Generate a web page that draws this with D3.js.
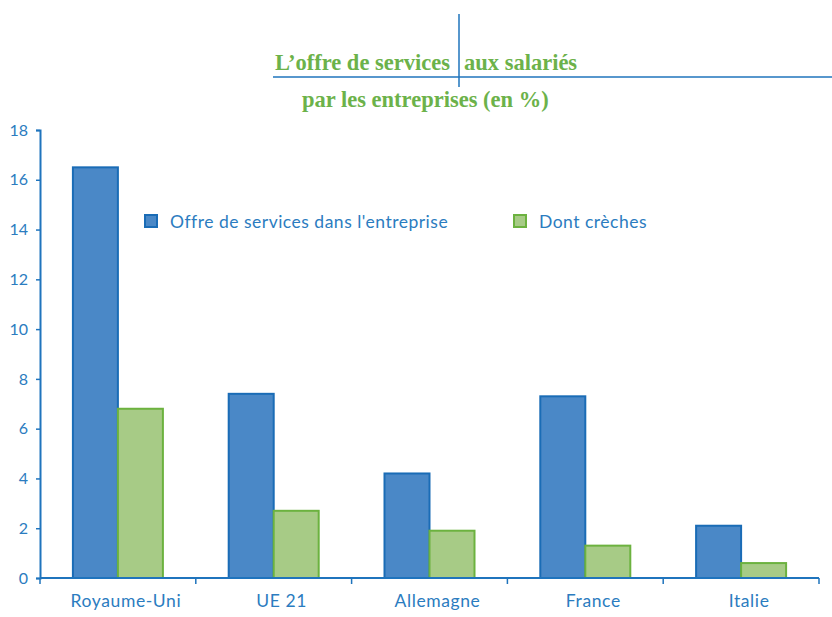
<!DOCTYPE html>
<html>
<head>
<meta charset="utf-8">
<script src="https://cdn.jsdelivr.net/npm/d3@7"></script>
<style>
  body { margin: 0; background: #fff; }
  svg text { font-family: Lato, "Open Sans", sans-serif; }
</style>
</head>
<body>
<svg id="chart" width="832" height="617"></svg>
<script>
// Data
const countries = ["Royaume-Uni", "UE 21", "Allemagne", "France", "Italie"];
const offreServices = [16.5, 7.4, 4.2, 7.3, 2.1];
const dontCreches = [6.8, 2.7, 1.9, 1.3, 0.6];
const seriesNames = ["Offre de services dans l'entreprise", "Dont crèches"];
const yTicks = [0, 2, 4, 6, 8, 10, 12, 14, 16, 18];

const axisBlue = "#1f74bd";
const textBlue = "#2b7cc0";
const fills = ["#4a88c7", "#a7cb86"];
const strokes = ["#1a6cb6", "#6cb23f"];
const titleGreen = "#6cb24a";

const svg = d3.select("#chart");
const x0 = 40, x1 = 819, yTop = 130, yBase = 578;

const x = d3.scaleBand().domain(countries).range([x0, x1]);
const xs = d3.scaleBand().domain([0, 1]).range([0, 90]);
const y = d3.scaleLinear().domain([0, 18]).range([yBase, yTop]);

// Title with its decorative lines
svg.append("line").attr("x1", 273).attr("x2", 832).attr("y1", 77).attr("y2", 77)
  .attr("stroke", axisBlue).attr("stroke-width", 1.5);
svg.append("line").attr("x1", 459).attr("x2", 459).attr("y1", 14).attr("y2", 87)
  .attr("stroke", axisBlue).attr("stroke-width", 1.5);

const titleStyle = t => t.style("font-family", "'Liberation Serif', 'Times New Roman', serif")
  .style("font-weight", "bold").style("font-size", "22.5px").attr("fill", titleGreen);
svg.append("text").attr("x", 275).attr("y", 70).text("L’offre de services").call(titleStyle);
svg.append("text").attr("x", 464).attr("y", 70).text("aux salariés").call(titleStyle);
svg.append("text").attr("x", 302).attr("y", 107).text("par les entreprises (en %)").call(titleStyle);

// Bars
const groups = svg.selectAll(".grp")
  .data(countries)
  .enter().append("g")
  .attr("transform", d => `translate(${x(d) + (x.bandwidth() - 90) / 2},0)`);

[offreServices, dontCreches].forEach((vals, i) => {
  groups.append("rect")
    .attr("x", xs(i))
    .attr("y", (d, j) => y(vals[j]))
    .attr("width", xs.bandwidth())
    .attr("height", (d, j) => yBase - y(vals[j]))
    .attr("fill", fills[i])
    .attr("stroke", strokes[i])
    .attr("stroke-width", 2);
});

// Y axis
const yAxis = svg.append("g")
  .attr("transform", `translate(${x0},0)`)
  .call(d3.axisLeft(y).tickValues(yTicks).tickSize(4).tickPadding(8));
yAxis.select(".domain").attr("stroke", axisBlue).attr("stroke-width", 2);
yAxis.selectAll(".tick line").attr("stroke", axisBlue).attr("stroke-width", 1.5);
yAxis.selectAll(".tick text").attr("fill", textBlue).style("font-size", "16px")
  .style("font-family", "Lato, sans-serif");

// X axis: ticks at band boundaries
svg.append("line").attr("x1", x0).attr("x2", x1).attr("y1", yBase).attr("y2", yBase)
  .attr("stroke", axisBlue).attr("stroke-width", 2);
const bounds = countries.map(c => x(c)).concat([x1]);
svg.selectAll(".xtick").data(bounds).enter().append("line")
  .attr("x1", d => d).attr("x2", d => d)
  .attr("y1", yBase).attr("y2", yBase + 6)
  .attr("stroke", axisBlue).attr("stroke-width", 1.5);
svg.selectAll(".xlab").data(countries).enter().append("text")
  .attr("x", d => x(d) + x.bandwidth() / 2 + 8)
  .attr("y", 607)
  .attr("text-anchor", "middle")
  .attr("fill", textBlue)
  .style("font-size", "17.5px")
  .style("letter-spacing", "0.6px")
  .text(d => d);

// Legend
const legendX = [145, 514];
seriesNames.forEach((name, i) => {
  svg.append("rect").attr("x", legendX[i]).attr("y", 215).attr("width", 12).attr("height", 12)
    .attr("fill", fills[i]).attr("stroke", strokes[i]).attr("stroke-width", 2);
  svg.append("text").attr("x", legendX[i] + 25).attr("y", 228)
    .attr("fill", textBlue).style("font-size", "17.5px")
    .style("letter-spacing", "0.5px").text(name);
});
</script>
</body>
</html>
